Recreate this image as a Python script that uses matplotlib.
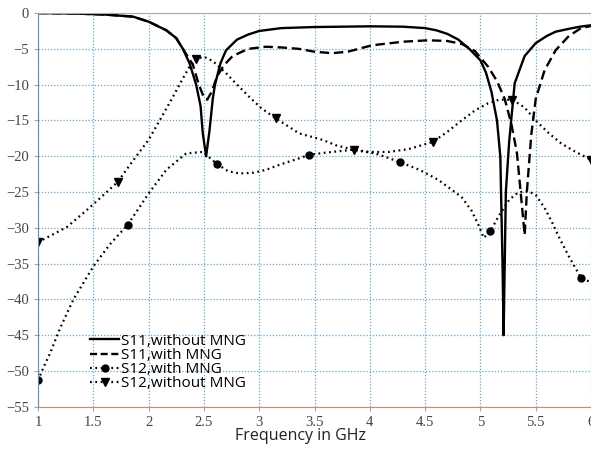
import numpy as np
import matplotlib.pyplot as plt
from matplotlib.lines import Line2D

# S11 without MNG
f_s11_wo = [1.0, 1.3, 1.6, 1.86, 2.0, 2.16, 2.25, 2.31, 2.37, 2.43, 2.47, 2.49, 2.52, 2.55, 2.58, 2.6,
            2.65, 2.7, 2.8, 2.9, 3.0, 3.2, 3.5, 4.0, 4.3, 4.5, 4.6, 4.7, 4.8, 4.9, 5.0, 5.05, 5.1, 5.15, 5.18,
            5.2, 5.21, 5.23, 5.26, 5.31, 5.4, 5.5, 5.6, 5.68, 5.8, 5.9, 6.0]
s11_wo = [0, -0.05, -0.2, -0.5, -1.2, -2.4, -3.5, -5.0, -7.0, -10, -13, -16.8, -20, -16.5, -12, -10,
          -7.0, -5.2, -3.7, -3.0, -2.5, -2.1, -1.95, -1.85, -1.9, -2.1, -2.4, -2.9, -3.7, -5.0, -6.6, -8.3, -11, -15, -20,
          -35, -45, -25, -18, -9.8, -6.0, -4.2, -3.2, -2.6, -2.2, -1.9, -1.7]

# S11 with MNG
f_s11_w = [1.0, 1.3, 1.6, 1.86, 2.0, 2.16, 2.25, 2.31, 2.4, 2.45, 2.5, 2.53, 2.57, 2.62, 2.68, 2.76,
           2.9, 3.06, 3.2, 3.36, 3.5, 3.66, 3.8, 4.02, 4.3, 4.53, 4.7, 4.83, 4.95, 5.07, 5.15, 5.22,
           5.28, 5.33, 5.37, 5.4, 5.42, 5.46, 5.5, 5.58, 5.68, 5.8, 5.91, 6.0]
s11_w = [0, -0.05, -0.2, -0.5, -1.2, -2.4, -3.5, -5.0, -7.2, -9.8, -11.8, -12.1, -11, -8.8, -7.3, -6.0,
         -5.0, -4.7, -4.8, -5.0, -5.4, -5.6, -5.4, -4.5, -4.0, -3.8, -3.9, -4.3, -5.3, -7.5, -9.5, -12,
         -15.5, -19.5, -26, -31, -25, -17, -12, -8, -5.2, -3.2, -2.1, -1.8]

# S12 with MNG
f_s12_w = [1.0, 1.05, 1.11, 1.2, 1.32, 1.5, 1.65, 1.81, 2.0, 2.16, 2.34, 2.49, 2.62, 2.72, 2.82, 2.95,
           3.06, 3.2, 3.36, 3.45, 3.6, 3.84, 4.05, 4.27, 4.45, 4.62, 4.83, 4.92, 4.98, 5.03, 5.09, 5.16,
           5.26, 5.32, 5.38, 5.45, 5.5, 5.58, 5.65, 5.72, 5.8, 5.91, 6.0]
s12_w = [-51.3, -49.5, -47.5, -44, -40, -35.4, -32.3, -29.6, -25.2, -21.9, -19.6, -19.4, -21.1, -22.1, -22.4, -22.3,
         -21.9, -21.1, -20.3, -19.8, -19.5, -19.1, -19.6, -20.8, -21.9, -23.3, -25.7, -27.6, -29.5, -31.4, -30.5, -28.5,
         -26.1, -25.3, -24.9, -25.0, -25.4, -27.2, -29.3, -31.6, -34, -37, -37.6]
mk_s12_w = [1.0, 1.81, 2.62, 3.45, 4.27, 5.09, 5.91]

# S12 without MNG
f_s12_wo = [1.0, 1.1, 1.26, 1.45, 1.6, 1.72, 1.85, 2.0, 2.1, 2.22, 2.3, 2.37, 2.43, 2.5, 2.58, 2.7,
            2.8, 2.91, 3.02, 3.15, 3.36, 3.57, 3.7, 3.86, 4.0, 4.17, 4.35, 4.57, 4.7, 4.83, 4.95, 5.07,
            5.17, 5.29, 5.4, 5.5, 5.62, 5.73, 5.85, 6.0]
s12_wo = [-32, -31.2, -29.9, -27.4, -25.3, -23.6, -20.8, -17.7, -15, -11.7, -9.4, -7.5, -6.4, -6.1, -6.7, -8.4,
          -10, -11.7, -13.3, -14.7, -16.8, -17.7, -18.5, -19.1, -19.4, -19.4, -19.0, -18.0, -16.6, -15, -13.6, -12.6,
          -12.1, -12.1, -13.2, -15, -16.8, -18.2, -19.3, -20.5]
mk_s12_wo = [1.0, 1.72, 2.43, 3.15, 3.86, 4.57, 5.29, 6.0]

labels = ['S11,without MNG', 'S11,with MNG', 'S12,with MNG', 'S12,without MNG']
x_ticks = [1, 1.5, 2, 2.5, 3, 3.5, 4, 4.5, 5, 5.5, 6]
x_tick_labels = ['1', '1.5', '2', '2.5', '3', '3.5', '4', '4.5', '5', '5.5', '6']
y_ticks = list(range(0, -60, -5))

fig = plt.figure(figsize=(5.91, 4.51), dpi=100)
ax = fig.add_axes([0.0643, 0.098, 0.9357, 0.873])

dot = (0, (0.8, 1.6))
ax.plot(f_s11_wo, s11_wo, color='black', lw=1.7)
ax.plot(f_s11_w, s11_w, color='black', lw=1.7, ls=(0, (4, 2)))
idx_w = [f_s12_w.index(v) for v in mk_s12_w]
ax.plot(f_s12_w, s12_w, color='black', lw=1.6, ls=dot, marker='o', ms=5, markevery=idx_w)
idx_wo = [f_s12_wo.index(v) for v in mk_s12_wo]
ax.plot(f_s12_wo, s12_wo, color='black', lw=1.6, ls=dot, marker='v', ms=5.5, markevery=idx_wo)

ax.set_xlim(1, 6)
ax.set_ylim(-55, 0)
ax.set_xticks(x_ticks)
ax.set_xticklabels(x_tick_labels)
ax.set_yticks(y_ticks)
ax.grid(True, color='#6aa6c8', ls=(0, (1, 1.5)), lw=0.9)
ax.tick_params(length=3, color='#9ab', labelsize=10.5, labelcolor='#444444',
               labelfontfamily='Liberation Serif')

ax.spines['left'].set_color('#5b8fb9')
ax.spines['bottom'].set_color('#c0906f')
ax.spines['top'].set_color('#aaaaaa')
ax.spines['right'].set_visible(False)

ax.set_xlabel('Frequency in GHz', fontsize=11.5, family='Open Sans', color='#222222')
ax.xaxis.set_label_coords(0.474, -0.055)

handles = [
    Line2D([], [], color='black', lw=1.7),
    Line2D([], [], color='black', lw=1.7, ls=(0, (3, 1.5))),
    Line2D([], [], color='black', lw=1.6, ls=dot, marker='o', ms=5),
    Line2D([], [], color='black', lw=1.6, ls=dot, marker='v', ms=5.5),
]
ax.legend(handles, labels, loc='lower left', bbox_to_anchor=(0.075, 0.012), frameon=False,
          prop={'family': 'Open Sans', 'size': 11}, handlelength=1.9, handletextpad=0.1,
          labelspacing=-0.05, borderpad=0.2)

fig.savefig('out.png', dpi=100)
